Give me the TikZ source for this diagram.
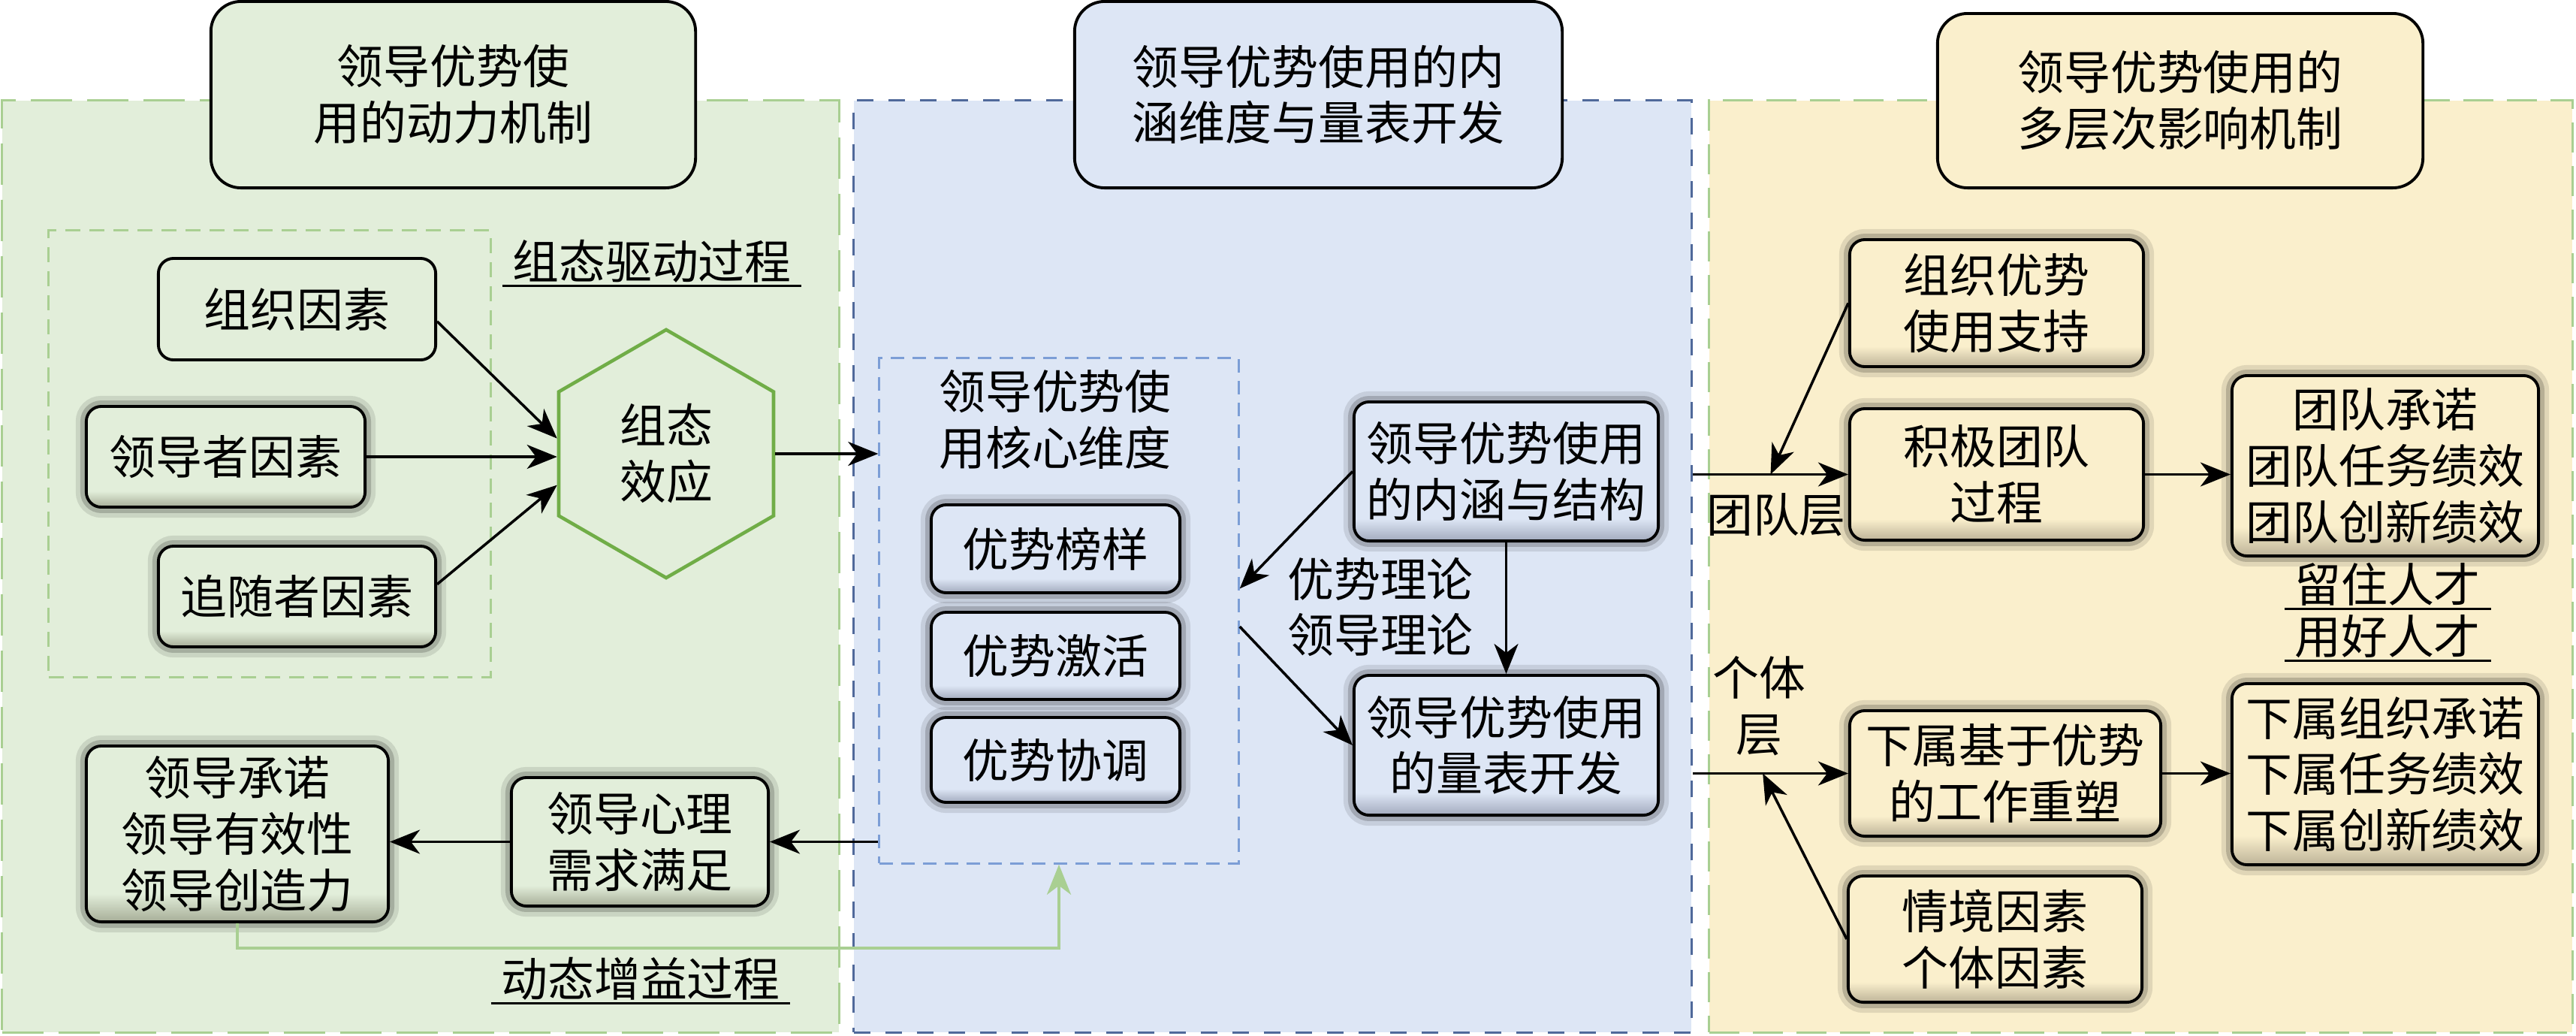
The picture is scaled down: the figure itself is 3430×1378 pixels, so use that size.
\documentclass[tikz,border=0pt]{standalone}
\usepackage{fontspec}
\setmainfont{Noto Sans CJK SC}
\usetikzlibrary{arrows.meta,shapes.geometric,calc}

\definecolor{gpanel}{HTML}{E2EEDA}
\definecolor{gline}{HTML}{A9CF92}
\definecolor{bpanel}{HTML}{DDE6F5}
\definecolor{bline}{HTML}{50699A}
\definecolor{binner}{HTML}{7C9ED6}
\definecolor{ypanel}{HTML}{FAEFCC}
\definecolor{hexline}{HTML}{70AD47}
\definecolor{gband}{HTML}{A6AD97}
\definecolor{bband}{HTML}{A2AABD}
\definecolor{yband}{HTML}{BDB398}

\pgfdeclareverticalshading{gshade}{100bp}{color(0bp)=(gband); color(25bp)=(gband); color(33bp)=(gpanel); color(100bp)=(gpanel)}
\pgfdeclareverticalshading{bshade}{100bp}{color(0bp)=(bband); color(25bp)=(bband); color(33bp)=(bpanel); color(100bp)=(bpanel)}
\pgfdeclareverticalshading{yshade}{100bp}{color(0bp)=(yband); color(25bp)=(yband); color(33bp)=(ypanel); color(100bp)=(ypanel)}

\tikzset{
  txt/.style={font=\fontsize{17.6pt}{21.3pt}\selectfont, align=center},
  panelbox/.style={inner sep=0pt, minimum height=12.4cm, line width=1pt},
  titlebox/.style={txt, draw, line width=1.1pt, rounded corners=0.4cm},
  box/.style={txt, draw, line width=1.1pt, rounded corners=0.2cm, inner sep=2pt},
  halo/.style={preaction={draw=black, draw opacity=0.10, line width=8pt},
               preaction={draw=black, draw opacity=0.18, line width=4.5pt}},
  gbox/.style={box, halo, shade, shading=gshade},
  bbox/.style={box, halo, shade, shading=bshade},
  ybox/.style={box, halo, shade, shading=yshade},
  tag/.style={txt, inner xsep=0.13cm, inner ysep=1pt},
  arr/.style={-{Stealth[length=0.4cm, width=0.32cm, inset=0.12cm]}, line width=1pt},
}

\begin{document}
\begin{tikzpicture}[x=0.01cm, y=-0.01cm]
  \useasboundingbox (0,0) rectangle (3430,1378);

  % three panels
  \node[panelbox, minimum width=11.14cm, fill=gpanel, draw=gline, dash pattern=on 0.55cm off 0.2cm] (dynpanel) at (560,754) {};
  \node[panelbox, minimum width=11.15cm, fill=bpanel, draw=bline, dash pattern=on 0.22cm off 0.2cm] (dimpanel) at (1694.5,754) {};
  \node[panelbox, minimum width=11.49cm, fill=ypanel, draw=gline, dash pattern=on 0.4cm off 0.18cm] (multipanel) at (2850.5,754) {};

  \node[titlebox, fill=gpanel, minimum width=6.45cm, minimum height=2.48cm] (dyntitle) at (603.5,126) {领导优势使\\用的动力机制};
  \node[titlebox, fill=bpanel, minimum width=6.49cm, minimum height=2.48cm] (dimtitle) at (1755.5,126) {领导优势使用的内\\涵维度与量表开发};
  \node[titlebox, fill=ypanel, minimum width=6.46cm, minimum height=2.32cm] (multititle) at (2903,134) {领导优势使用的\\多层次影响机制};

  % left: dynamics
  \node[draw=gline, dash pattern=on 0.2cm off 0.12cm, line width=0.9pt, minimum width=5.88cm, minimum height=5.94cm] (cfgbox) at (359,604) {};
  \node[tag] (cfglabel) at (868,348) {组态驱动过程};
  \draw[line width=0.8pt] (cfglabel.south west) -- (cfglabel.south east);
  \node[box, fill=gpanel, minimum width=3.69cm, minimum height=1.35cm] (org) at (395.5,411.5) {组织因素};
  \node[gbox, minimum width=3.71cm, minimum height=1.34cm] (leader) at (300.5,608) {领导者因素};
  \node[gbox, minimum width=3.69cm, minimum height=1.34cm] (follower) at (395.5,794) {追随者因素};
  \node[txt, regular polygon, regular polygon sides=6, shape border rotate=30, minimum size=3.3cm,
        draw=hexline, line width=1.3pt, fill=gpanel] (hex) at (887,604) {组态\\效应};
  \draw[arr] (org.-5) -- (hex.172);
  \draw[arr] (leader.east) -- (leader.east -| hex.west);
  \draw[arr] (follower.5) -- (hex.196);

  \node[gbox, minimum width=4.02cm, minimum height=2.34cm] (outcome) at (316,1110) {领导承诺\\领导有效性\\领导创造力};
  \node[gbox, minimum width=3.42cm, minimum height=1.71cm] (need) at (852,1120.5) {领导心理\\需求满足};
  \node[tag] (gainlabel) at (853,1303) {动态增益过程};
  \draw[line width=0.8pt] (gainlabel.south west) -- (gainlabel.south east);

  % middle: dimensions and scale
  \node[draw=binner, dash pattern=on 0.18cm off 0.11cm, line width=0.9pt, minimum width=4.78cm, minimum height=6.72cm] (core) at (1410,813) {};
  \node[txt] (coretitle) at (1405,559) {领导优势使\\用核心维度};
  \node[bbox, minimum width=3.31cm, minimum height=1.17cm] (model) at (1405.5,730.5) {优势榜样};
  \node[bbox, minimum width=3.31cm, minimum height=1.16cm] (activate) at (1405.5,873) {优势激活};
  \node[bbox, minimum width=3.31cm, minimum height=1.13cm] (coord) at (1405.5,1011.5) {优势协调};
  \node[bbox, minimum width=4.05cm, minimum height=1.85cm] (struct) at (2005.5,627.5) {领导优势使用\\的内涵与结构};
  \node[bbox, minimum width=4.05cm, minimum height=1.86cm] (scale) at (2005.5,992) {领导优势使用\\的量表开发};
  \node[txt] (theory) at (1838,808) {优势理论\\领导理论};
  \draw[arr] (struct.west) -- (core.7);
  \draw[arr] (core.-5) -- (scale.west);
  \draw[arr] (struct.south) -- (scale.north);

  \draw[arr] (hex.east) -- (hex.east -| core.west);
  \draw[arr] (need.east -| core.west) -- (need.east);
  \draw[arr] (need.west) -- (need.west -| outcome.east);
  \draw[arr, draw=gline, line width=1.2pt] (outcome.south) -- ++(0,33) -| (core.south);

  % right: multilevel
  \node[ybox, minimum width=3.91cm, minimum height=1.69cm] (support) at (2658.5,403.5) {组织优势\\使用支持};
  \node[ybox, minimum width=3.91cm, minimum height=1.75cm] (tproc) at (2658.5,631.5) {积极团队\\过程};
  \node[ybox, minimum width=4.08cm, minimum height=2.40cm] (tout) at (3176,620) {团队承诺\\团队任务绩效\\团队创新绩效};
  \node[tag] (keep) at (3179,778) {留住人才};
  \draw[line width=0.8pt] (keep.south west) -- (keep.south east);
  \node[tag] (retain) at (3179,847) {用好人才};
  \draw[line width=0.8pt] (retain.south west) -- (retain.south east);
  \node[ybox, minimum width=4.14cm, minimum height=1.67cm] (reshape) at (2670,1029.5) {下属基于优势\\的工作重塑};
  \node[ybox, minimum width=4.08cm, minimum height=2.41cm] (sout) at (3176,1030.5) {下属组织承诺\\下属任务绩效\\下属创新绩效};
  \node[ybox, minimum width=3.91cm, minimum height=1.68cm] (ctx) at (2656.5,1250) {情境因素\\个体因素};
  \node[txt] (teamlabel) at (2365,685) {团队层};
  \node[txt] (indlabel) at (2342,940) {个体\\层};

  \coordinate (tjoin) at ($(dimpanel.east |- tproc.west)!0.5!(tproc.west)$);
  \coordinate (ijoin) at ($(dimpanel.east |- reshape.west)!0.45!(reshape.west)$);
  \draw[arr] (dimpanel.east |- tproc.west) -- (tproc.west);
  \draw[arr] (support.west) -- (tjoin);
  \draw[arr] (tproc.east) -- (tproc.east -| tout.west);
  \draw[arr] (dimpanel.east |- reshape.west) -- (reshape.west);
  \draw[arr] (ctx.west) -- (ijoin);
  \draw[arr] (reshape.east) -- (reshape.east -| sout.west);
\end{tikzpicture}
\end{document}
